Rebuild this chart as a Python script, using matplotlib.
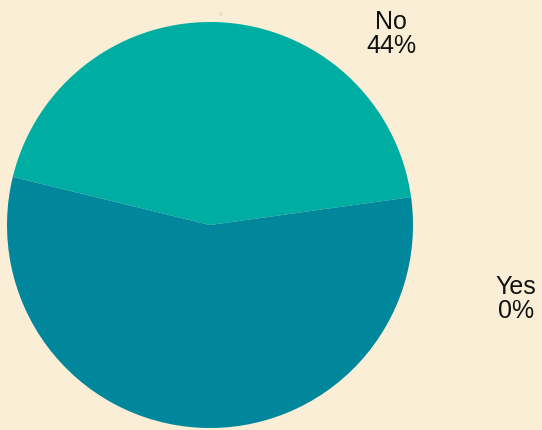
import matplotlib.pyplot as plt

labels = ["No", "Yes"]
values = [44, 56]
shown_pct = ["44%", "0%"]
colors = ["#00ADA3", "#00879C"]
bg = "#FAEFD6"

fig = plt.figure(figsize=(5.42, 4.30), dpi=100, facecolor=bg)
# pie circle centre ~ (210, 225) px, radius ~203 px
ax = fig.add_axes([7 / 542, 2 / 430, 406 / 542, 406 / 430])
ax.set_facecolor(bg)
ax.pie(values, colors=colors, startangle=7.9, counterclock=True, radius=1,
       wedgeprops=dict(linewidth=0))
ax.set_xlim(-1, 1)
ax.set_ylim(-1, 1)
ax.set_aspect("equal")
ax.axis("off")

font = ["Liberation Sans", "DejaVu Sans"]
fig.text(391 / 542, 1 - 34 / 430, f"{labels[0]}\n{shown_pct[0]}", ha="center", va="center",
         fontsize=18, family=font, color="#111111", linespacing=0.95)
fig.text(516 / 542, 1 - 299 / 430, f"{labels[1]}\n{shown_pct[1]}", ha="center", va="center",
         fontsize=18, family=font, color="#111111", linespacing=0.95)
fig.text(220 / 542, 1 - 15 / 430, "0", ha="center", va="center",
         fontsize=4, family=font, color="#cccccc")

fig.savefig("out.png", dpi=100, facecolor=bg)
